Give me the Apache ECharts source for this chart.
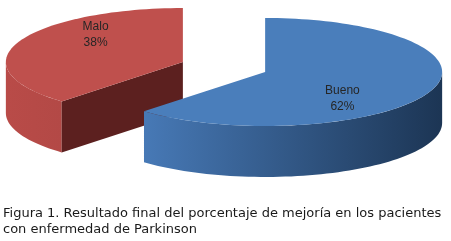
<!DOCTYPE html>
<html>
<head>
<meta charset="utf-8">
<script src="https://cdn.jsdelivr.net/npm/echarts@6/dist/echarts.min.js"></script>
<style>
html, body { margin: 0; padding: 0; background: #fff; }
#chart { width: 451px; height: 241px; }
</style>
</head>
<body>
<div id="chart"></div>
<script>
var categories = ['Bueno', 'Malo'];
var values = [62, 38];
var captionLines = [
    'Figura 1. Resultado final del porcentaje de mejoría en los pacientes',
    'con enfermedad de Parkinson'
];

// pie geometry (pixels) -- flattened 3D pie
var pie = {cx: 224, cy: 67, rx: 177, ry: 54, depth: 51, explode: 0.25};
var sliceColors = {
    Bueno: {top: '#4a7ebb', rimFrom: '#4779b6', rimTo: '#1c3554', cut: '#2b4d77'},
    Malo: {top: '#bf504d', rimFrom: '#b94b48', rimTo: '#b34946', cut: '#5c201f'}
};

var total = values.reduce(function (a, b) { return a + b; }, 0);
var rad = Math.PI / 180;

function pt(c, a, dy) {
    return [c[0] + pie.rx * Math.sin(a * rad), c[1] - pie.ry * Math.cos(a * rad) + (dy || 0)];
}

function arc(c, a1, a2, dy) {
    var pts = [];
    var n = Math.max(2, Math.ceil(Math.abs(a2 - a1) / 2));
    for (var i = 0; i <= n; i++) {
        pts.push(pt(c, a1 + (a2 - a1) * i / n, dy));
    }
    return pts;
}

function renderSlice(params, api) {
    var idx = params.dataIndex;
    var start = 0;
    for (var i = 0; i < idx; i++) start += values[i];
    var a1 = start / total * 360;
    var a2 = a1 + api.value(0) / total * 360;
    var mid = (a1 + a2) / 2;
    var name = categories[idx];
    var col = sliceColors[name];

    var c = [
        pie.cx + pie.explode * pie.rx * Math.sin(mid * rad),
        pie.cy - pie.explode * pie.ry * Math.cos(mid * rad)
    ];
    var zb = Math.round(c[1]) * 10;
    var children = [];

    // outer rim, front half only
    var r1 = Math.max(a1, 90), r2 = Math.min(a2, 270);
    if (r2 > r1) {
        var top = arc(c, r1, r2, 0);
        var bot = arc(c, r2, r1, pie.depth);
        children.push({
            type: 'polygon',
            z2: zb,
            shape: {points: top.concat(bot)},
            style: {
                fill: new echarts.graphic.LinearGradient(1, 0, 0, 0, [
                    {offset: 0, color: col.rimTo},
                    {offset: 1, color: col.rimFrom}
                ])
            }
        });
    }

    // radial cut faces facing the viewer
    [[a1, a1 - 90], [a2, a2 + 90]].forEach(function (f) {
        if (Math.cos(f[1] * rad) < -0.01) {
            var e = pt(c, f[0], 0);
            children.push({
                type: 'polygon',
                z2: zb,
                shape: {points: [c, e, [e[0], e[1] + pie.depth], [c[0], c[1] + pie.depth]]},
                style: {fill: col.cut}
            });
        }
    });

    // top face
    children.push({
        type: 'polygon',
        z2: zb + 1,
        shape: {points: [c].concat(arc(c, a1, a2, 0))},
        style: {fill: col.top}
    });

    // label
    children.push({
        type: 'text',
        z2: zb + 2,
        x: c[0] + 0.5 * pie.rx * Math.sin(mid * rad) - 5,
        y: c[1] - 1.36 * pie.ry * Math.cos(mid * rad),
        style: {
            text: name + '\n' + Math.round(api.value(0) / total * 100) + '%',
            fill: '#262626',
            font: '12px "Liberation Sans Narrow", "Liberation Sans", sans-serif',
            lineHeight: 16,
            align: 'center',
            verticalAlign: 'middle'
        }
    });

    return {type: 'group', children: children};
}

var chart = echarts.init(document.getElementById('chart'));
chart.setOption({
    animation: false,
    backgroundColor: '#ffffff',
    title: {
        text: captionLines.join('\n'),
        left: 3,
        top: 206,
        padding: 0,
        textStyle: {
            fontSize: 13,
            fontWeight: 'normal',
            fontFamily: '"DejaVu Sans", sans-serif',
            color: '#1a1a1a',
            lineHeight: 16
        }
    },
    series: [{
        type: 'custom',
        coordinateSystem: 'none',
        silent: true,
        renderItem: renderSlice,
        data: categories.map(function (c, i) {
            return {name: c, value: [values[i]]};
        })
    }]
});
</script>
</body>
</html>
